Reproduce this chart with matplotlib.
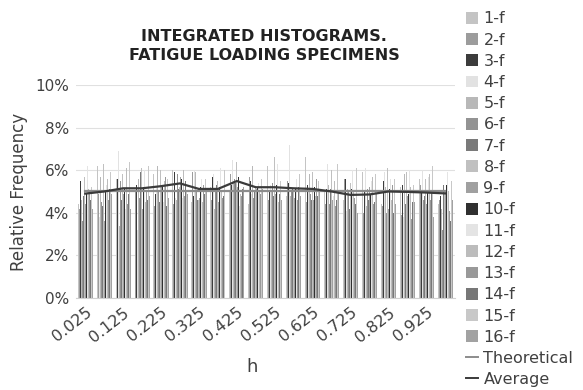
import numpy as np
import matplotlib.pyplot as plt
from matplotlib.patches import Patch
from matplotlib.lines import Line2D

plt.rcParams['font.family'] = ['DejaVu Sans']

# bin centres of the normalised histogram
h = [0.025, 0.075, 0.125, 0.175, 0.225, 0.275, 0.325, 0.375, 0.425, 0.475,
     0.525, 0.575, 0.625, 0.675, 0.725, 0.775, 0.825, 0.875, 0.925, 0.975]

series_names = ['1-f', '2-f', '3-f', '4-f', '5-f', '6-f', '7-f', '8-f',
                '9-f', '10-f', '11-f', '12-f', '13-f', '14-f', '15-f', '16-f']

# relative frequency (%) per specimen
f1 = [4.4, 6.2, 5.6, 6.4, 5.8, 6.0, 4.5, 5.2, 5.0, 4.4, 6.2, 4.8, 6.6, 5.0, 4.6, 5.9, 4.4, 5.2, 5.6, 4.4]
f2 = [4.2, 4.9, 4.4, 5.0, 4.3, 4.4, 5.9, 4.6, 5.8, 5.7, 4.6, 5.5, 4.5, 4.4, 5.6, 4.0, 4.3, 3.9, 5.3, 4.6]
f3 = [5.5, 5.0, 5.6, 5.3, 4.9, 5.9, 4.8, 5.7, 5.3, 5.5, 5.0, 5.4, 5.3, 5.1, 5.6, 5.0, 5.5, 5.3, 5.0, 4.8]
f4 = [5.3, 3.8, 6.9, 3.2, 5.2, 4.7, 6.0, 5.8, 6.5, 4.9, 5.3, 7.2, 5.0, 6.3, 4.1, 6.1, 5.9, 3.8, 6.0, 5.6]
f5 = [4.6, 5.7, 3.4, 5.6, 6.2, 4.6, 5.9, 4.2, 5.5, 6.2, 5.0, 4.8, 5.8, 5.3, 5.1, 4.3, 5.2, 5.8, 3.3, 4.2]
f6 = [3.6, 4.5, 5.5, 4.7, 5.0, 5.8, 5.0, 5.0, 5.6, 4.7, 5.4, 5.0, 4.9, 4.4, 5.0, 5.1, 4.0, 4.7, 4.6, 3.2]
f7 = [4.8, 4.3, 4.6, 5.9, 4.5, 5.1, 4.6, 5.3, 5.4, 5.0, 4.8, 5.1, 4.6, 5.1, 4.2, 4.6, 5.0, 4.4, 4.8, 5.3]
f8 = [5.7, 6.3, 5.8, 6.1, 6.0, 5.2, 4.6, 5.5, 6.4, 5.2, 6.6, 5.0, 5.9, 6.0, 5.4, 5.3, 6.1, 5.9, 5.6, 5.0]
f9 = [4.4, 3.6, 4.9, 4.2, 5.2, 5.7, 4.7, 4.5, 5.2, 5.1, 4.9, 4.7, 4.6, 4.6, 4.6, 5.2, 4.2, 4.8, 4.4, 5.0]
f10 = [4.9, 5.0, 5.1, 5.2, 5.3, 5.6, 5.2, 5.2, 5.7, 5.2, 5.3, 5.1, 5.2, 5.0, 5.1, 4.9, 5.1, 4.9, 5.0, 5.3]
f11 = [6.2, 5.3, 4.2, 6.0, 4.5, 4.7, 5.6, 6.1, 4.3, 5.4, 6.3, 5.6, 5.3, 4.8, 6.0, 5.5, 5.6, 6.0, 5.7, 5.9]
f12 = [5.1, 5.6, 6.1, 4.5, 5.5, 6.0, 4.5, 5.0, 4.9, 5.0, 4.5, 6.1, 4.8, 5.5, 5.0, 5.7, 4.6, 5.2, 5.8, 5.0]
f13 = [5.0, 4.6, 4.4, 5.0, 5.7, 4.8, 5.3, 4.7, 4.8, 4.9, 5.0, 4.6, 5.6, 4.3, 4.7, 4.4, 5.3, 3.7, 4.6, 4.1]
f14 = [4.6, 5.1, 4.9, 4.6, 4.3, 5.5, 4.9, 4.8, 5.1, 5.2, 4.9, 5.2, 4.8, 4.6, 4.4, 4.5, 4.0, 4.5, 5.0, 3.6]
f15 = [5.2, 5.9, 6.4, 6.2, 5.6, 5.0, 5.6, 6.0, 5.6, 5.6, 5.5, 5.8, 5.5, 6.3, 6.1, 5.8, 5.6, 5.3, 6.2, 5.5]
f16 = [4.2, 4.9, 4.2, 4.8, 4.7, 4.9, 5.0, 4.4, 5.2, 5.1, 4.6, 4.8, 5.0, 5.0, 4.0, 4.9, 4.4, 4.5, 3.8, 4.6]

theoretical = [5.0] * 20
average = [4.9, 5.0, 5.15, 5.15, 5.25, 5.38, 5.12, 5.12, 5.49, 5.2,
           5.2, 5.15, 5.12, 5.0, 4.84, 4.86, 5.0, 4.98, 4.95, 4.91]

series = [f1, f2, f3, f4, f5, f6, f7, f8, f9, f10, f11, f12, f13, f14, f15, f16]
greys = ['#c4c4c4', '#9c9c9c', '#3c3c3c', '#e2e2e2', '#b8b8b8', '#939393',
         '#7a7a7a', '#c0c0c0', '#a0a0a0', '#303030', '#e4e4e4', '#bcbcbc',
         '#999999', '#777777', '#c8c8c8', '#a2a2a2']
txt = '#404040'

fig = plt.figure(figsize=(5.83, 3.9), dpi=100)
ax = fig.add_axes([0.130, 0.236, 0.650, 0.546])

x = np.arange(len(h))
n = len(series)
group_w = 0.8
bw = group_w / n
for k, (vals, c) in enumerate(zip(series, greys)):
    ax.bar(x - group_w / 2 + bw * (k + 0.5), vals, width=bw, color=c,
           linewidth=0, zorder=2)

ax.plot(x, theoretical, color='#8c8c8c', lw=1.6, zorder=3)
ax.plot(x, average, color='#3a3a3a', lw=1.6, zorder=4)

ax.set_xlim(-0.5, len(h) - 0.5)
ax.set_ylim(0, 10)
ax.set_yticks(np.arange(0, 11, 2))
ax.set_yticklabels([f'{v}%' for v in range(0, 11, 2)])
ax.set_xticks(x[::2])
ax.set_xticklabels([f'{v:.3f}' for v in h[::2]], rotation=38, ha='right',
                   rotation_mode='anchor', fontsize=11.5)
ax.grid(axis='y', color='#e0e0e0', lw=0.8, zorder=0)
for s in ax.spines.values():
    s.set_visible(False)
ax.spines['bottom'].set_visible(True)
ax.spines['bottom'].set_color('#d0d0d0')
ax.tick_params(length=0, colors=txt)
ax.tick_params(axis='y', labelsize=11, pad=5)
ax.tick_params(axis='x', pad=5)

ax.set_ylabel('Relative Frequency', fontsize=12, color=txt, labelpad=5)
ax.set_xlabel('h', fontsize=13, color=txt)
ax.xaxis.set_label_coords(0.464, -0.28)

fig.text(0.453, 0.882, 'INTEGRATED HISTOGRAMS.\nFATIGUE LOADING SPECIMENS',
         ha='center', va='center', fontsize=11.5, fontweight='bold',
         color='#222222', linespacing=1.35)

handles = [Patch(facecolor=c, edgecolor='none') for c in greys]
handles += [Line2D([], [], color='#8c8c8c', lw=1.4),
            Line2D([], [], color='#3a3a3a', lw=1.4)]
labels = series_names + ['Theoretical', 'Average']
fig.legend(handles, labels, loc='upper left', bbox_to_anchor=(0.799, 0.971),
           frameon=False, fontsize=11.5, labelspacing=0.39, handlelength=0.75,
           handleheight=0.75, handletextpad=0.35, borderpad=0, borderaxespad=0,
           labelcolor=txt)

fig.savefig('out.png', dpi=100)
